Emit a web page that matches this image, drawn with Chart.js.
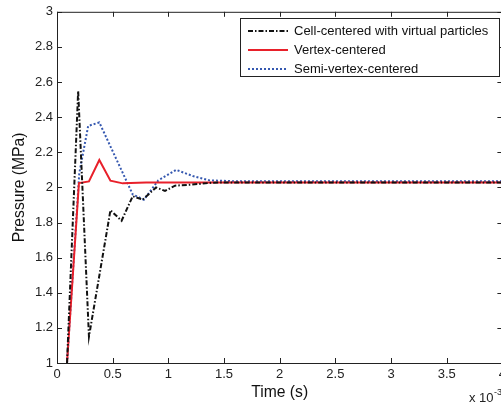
<!DOCTYPE html>
<html>
<head>
<meta charset="utf-8">
<script src="https://cdn.jsdelivr.net/npm/chart.js@4.4.0/dist/chart.umd.min.js"></script>
<style>
html,body{margin:0;padding:0;background:#fff;overflow:hidden}
canvas{display:block}
</style>
</head>
<body>
<canvas id="c" width="510" height="407"></canvas>
<script>
// time in units of 1e-3 s, pressure in MPa
const cellX = [0.09, 0.19, 0.287, 0.48, 0.58, 0.68, 0.77, 0.89, 0.97, 1.06, 1.19, 1.4, 1.6, 4.0];
const cellY = [1.0, 2.55, 1.15, 1.87, 1.81, 1.95, 1.93, 2.0, 1.98, 2.01, 2.015, 2.027, 2.028, 2.028];
const vertX = [0.09, 0.197, 0.287, 0.38, 0.48, 0.59, 0.8, 4.0];
const vertY = [1.0, 2.025, 2.034, 2.156, 2.038, 2.023, 2.028, 2.028];
const semiX = [0.09, 0.2, 0.28, 0.38, 0.68, 0.78, 0.91, 1.07, 1.22, 1.37, 1.6, 4.0];
const semiY = [1.0, 2.08, 2.35, 2.37, 1.96, 1.93, 2.04, 2.10, 2.065, 2.04, 2.035, 2.035];
const seriesNames = ['Cell-centered with virtual particles', 'Vertex-centered', 'Semi-vertex-centered'];
const xTicks = [0, 0.5, 1, 1.5, 2, 2.5, 3, 3.5, 4];
const yTicks = [1, 1.2, 1.4, 1.6, 1.8, 2, 2.2, 2.4, 2.6, 2.8, 3];

const FONT = '"Liberation Sans", Arial, sans-serif';
const pts = (xs, ys) => xs.map((x, i) => ({x: x, y: ys[i]}));

const styles = [
  {color: '#111111', dash: [5, 2, 1.5, 2], width: 2},
  {color: '#e8202a', dash: [], width: 2},
  {color: '#3558b0', dash: [2, 2], width: 2}
];

// box, inward ticks, legend and exponent note
const frame = {
  id: 'frame',
  afterDraw(chart) {
    const ctx = chart.ctx, a = chart.chartArea;
    const xs = chart.scales.x, ys = chart.scales.y;
    ctx.save();
    ctx.strokeStyle = '#222';
    ctx.lineWidth = 1;
    ctx.setLineDash([]);
    ctx.strokeRect(a.left + 0.5, a.top + 0.5, a.right - a.left, a.bottom - a.top);
    ctx.beginPath();
    xTicks.forEach(v => {
      const p = Math.round(xs.getPixelForValue(v)) + 0.5;
      ctx.moveTo(p, a.bottom); ctx.lineTo(p, a.bottom - 5);
      ctx.moveTo(p, a.top); ctx.lineTo(p, a.top + 5);
    });
    yTicks.forEach(v => {
      const p = Math.round(ys.getPixelForValue(v)) + 0.5;
      ctx.moveTo(a.left, p); ctx.lineTo(a.left + 5, p);
      ctx.moveTo(a.right, p); ctx.lineTo(a.right - 5, p);
    });
    ctx.stroke();

    // legend
    ctx.fillStyle = '#fff';
    ctx.fillRect(240.5, 18.5, 259, 58);
    ctx.strokeStyle = '#222';
    ctx.strokeRect(240.5, 18.5, 259, 58);
    const rows = [31, 50, 69];
    ctx.font = '13px ' + FONT;
    ctx.textBaseline = 'middle';
    seriesNames.forEach((name, i) => {
      const s = styles[i];
      ctx.strokeStyle = s.color;
      ctx.lineWidth = s.width;
      ctx.setLineDash(s.dash);
      ctx.beginPath();
      ctx.moveTo(248, rows[i]);
      ctx.lineTo(288, rows[i]);
      ctx.stroke();
      ctx.fillStyle = '#111';
      ctx.fillText(name, 294, rows[i] + 0.5);
    });

    ctx.setLineDash([]);
    ctx.fillStyle = '#222';
    ctx.textBaseline = 'alphabetic';
    ctx.font = '13px ' + FONT;
    ctx.fillText('x 10', 469, 401.5);
    ctx.font = '9px ' + FONT;
    ctx.fillText('-3', 494, 395);
    ctx.restore();
  }
};

new Chart(document.getElementById('c'), {
  type: 'line',
  data: {
    datasets: [
      {label: seriesNames[0], data: pts(cellX, cellY)},
      {label: seriesNames[1], data: pts(vertX, vertY)},
      {label: seriesNames[2], data: pts(semiX, semiY)}
    ].map((d, i) => Object.assign(d, {
      borderColor: styles[i].color,
      borderDash: styles[i].dash,
      borderWidth: styles[i].width,
      pointRadius: 0,
      tension: 0,
      fill: false
    }))
  },
  options: {
    responsive: false,
    animation: false,
    layout: {padding: {top: 11, right: 7, left: 0, bottom: 0}},
    plugins: {legend: {display: false}, tooltip: {enabled: false}},
    scales: {
      x: {
        type: 'linear', min: 0, max: 4,
        afterBuildTicks: s => { s.ticks = xTicks.map(v => ({value: v})); },
        afterFit: s => { s.height = 44; },
        grid: {display: false, drawTicks: false},
        border: {display: false},
        ticks: {color: '#222', font: {family: FONT, size: 13}, padding: 4,
                maxRotation: 0, autoSkip: false, callback: v => String(v)},
        title: {display: true, text: 'Time (s)', color: '#111',
                font: {family: FONT, size: 15.7}, padding: {top: 0, bottom: 5}}
      },
      y: {
        min: 1, max: 3,
        afterBuildTicks: s => { s.ticks = yTicks.map(v => ({value: v})); },
        afterFit: s => { s.width = 57; },
        grid: {display: false, drawTicks: false},
        border: {display: false},
        ticks: {color: '#222', font: {family: FONT, size: 13}, padding: 4,
                autoSkip: false, callback: v => String(Number(v.toFixed(1)))},
        title: {display: true, text: 'Pressure (MPa)', color: '#111',
                font: {family: FONT, size: 15.7}, padding: {top: 10, bottom: 0}}
      }
    }
  },
  plugins: [frame]
});
</script>
</body>
</html>
